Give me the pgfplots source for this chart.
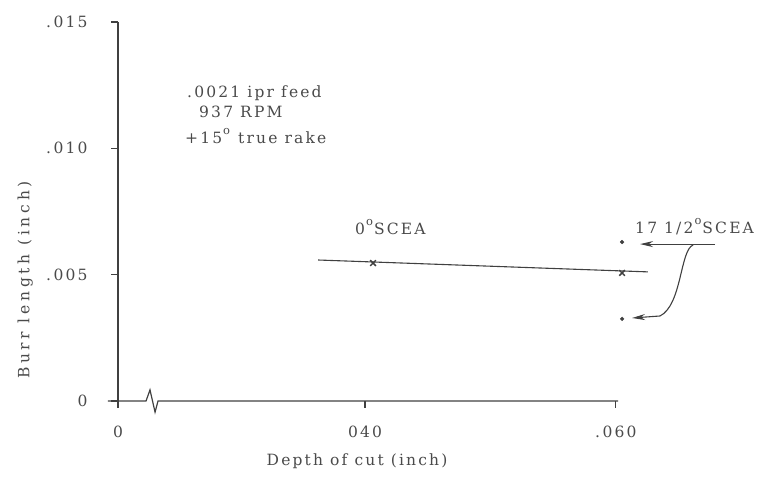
\documentclass[border=0pt]{standalone}
\usepackage{pgfplots}
\pgfplotsset{compat=1.18}
\usetikzlibrary{arrows.meta}
\usepackage{fontspec}
\setmainfont[LetterSpace=14]{DejaVu Serif}
\newfontfamily\widefont[LetterSpace=24]{DejaVu Serif}
\definecolor{ink}{HTML}{404040}
\definecolor{txt}{HTML}{4A4A4A}
\newcommand{\fs}{\fontsize{15.5bp}{18bp}\selectfont}
\newcommand{\degsup}{\kern1pt\raisebox{0.6em}{\fontsize{11.5bp}{12bp}\selectfont o}\kern1pt}
\begin{document}
\begin{tikzpicture}[x=1bp,y=1bp]
\useasboundingbox (0,0) rectangle (771,478);
\begin{axis}[
  at={(118bp,77bp)}, anchor=south west,
  scale only axis, width=499bp, height=379bp,
  xmin=0.020, xmax=0.0604, ymin=0, ymax=0.015,
  axis lines*=left,
  x axis line style={draw=none},
  y axis line style={ink, line width=1.3bp},
  clip=false,
  xtick={0.020,0.040,0.0603}, xticklabels={0,040,{.\,060}},
  ytick={0,0.005,0.010,0.015}, yticklabels={0,{.\,005},{.\,010},{.\,015}},
  scaled ticks=false,
  tick align=outside, major tick length=7bp,
  tick style={ink, line width=1.2bp},
  tick label style={font=\fs, text=txt},
  xticklabel style={yshift=-14bp},
  yticklabel style={xshift=-20bp},
  every axis x label/.style={at={(axis description cs:0.479,0)}, anchor=center, yshift=-60bp, font=\fs, text=txt},
  every axis y label/.style={at={(axis description cs:-0.186,0.319)}, anchor=center, rotate=90, font=\widefont\fs, text=txt},
  xlabel={Depth of cut (inch)},
  ylabel={Burr length (inch)},
]
% broken x axis line
\draw[ink, line width=1.2bp] (axis cs:0.01919,0) -- (axis cs:0.02227,0) -- (axis cs:0.02259,0.00044) -- (axis cs:0.02300,-0.00044) -- (axis cs:0.02324,0) -- (axis cs:0.06048,0);

% 0 deg SCEA fitted line
\addplot[ink, line width=1.1bp, no marks] coordinates {(0.0362,0.00558) (0.0629,0.00511)};
% x marks
\addplot[only marks, mark=x, mark size=4bp, mark options={ink, line width=1.5bp}] coordinates {(0.04065,0.00546) (0.06081,0.00507)};
% 17 1/2 deg SCEA dots
\addplot[only marks, mark=*, mark size=1.9bp, mark options={ink, fill=ink}] coordinates {(0.06081,0.00629) (0.06081,0.00325)};

% arrows
\draw[ink, line width=1.1bp, -{Stealth[length=13bp,width=6bp]}] (axis cs:0.06834,0.00621) -- (axis cs:0.06227,0.00621);
\draw[ink, line width=1.1bp, -{Stealth[length=13bp,width=6bp]}] (axis cs:0.06656,0.006174) .. controls (axis cs:0.06550,0.005976) and (axis cs:0.06566,0.003799) .. (axis cs:0.06388,0.003364) -- (axis cs:0.06162,0.003285);

% annotations
\node[anchor=west, font=\fs, text=txt, inner sep=0pt] at (axis cs:0.02559,0.01219) {.0021 ipr feed};
\node[anchor=west, font=\fs, text=txt, inner sep=0pt] at (axis cs:0.02656,0.01144) {937 RPM};
\node[anchor=west, font=\fs, text=txt, inner sep=0pt] at (axis cs:0.02542,0.01049) {+15\degsup{} true rake};
\node[anchor=west, font=\fs, text=txt, inner sep=0pt] at (axis cs:0.03919,0.00689) {0\degsup SCEA};
\node[anchor=west, font=\fs, text=txt, inner sep=0pt] at (axis cs:0.06186,0.00689) {17 1/2\degsup SCEA};
\end{axis}
\end{tikzpicture}
\end{document}
